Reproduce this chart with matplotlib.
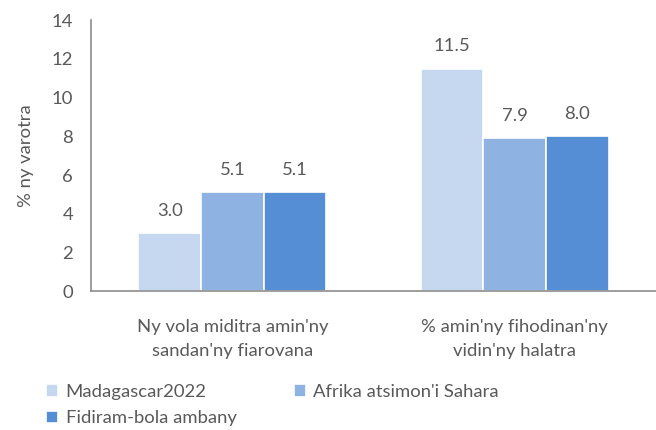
import matplotlib.pyplot as plt
import numpy as np

# donnees
categories = ["Ny vola miditra amin'ny\nsandan'ny fiarovana", "% amin'ny fihodinan'ny\nvidin'ny halatra"]
series_names = ["Madagascar2022", "Afrika atsimon'i Sahara", "Fidiram-bola ambany"]
madagascar = [3.0, 11.5]
afrika = [5.1, 7.9]
fidiram = [5.1, 8.0]
colors = ["#C6D8EF", "#8EB3E2", "#558ED5"]

plt.rcParams['font.family'] = ['Lato', 'DejaVu Sans']
grey = "#595959"
fs = 13.3

fig = plt.figure(figsize=(6.56, 4.30), dpi=100)
ax = fig.add_axes([0.139, 0.323, 0.861, 0.630])

x = np.arange(len(categories))
w = 0.222
values = [madagascar, afrika, fidiram]
handles = []
for i in range(3):
    bars = ax.bar(x + (i - 1) * w, values[i], width=w, color=colors[i],
                  edgecolor="white", linewidth=1.2, label=series_names[i])
    handles.append(bars)
    for b, v in zip(bars, values[i]):
        ax.text(b.get_x() + b.get_width() / 2, v + 0.75, "%.1f" % v,
                ha="center", va="bottom", fontsize=fs, color=grey)

ax.set_xlim(-0.5, 1.5)
ax.set_ylim(0, 14)
ax.set_yticks(range(0, 15, 2))
ax.set_xticks(x)
ax.set_xticklabels(categories, fontsize=fs, color=grey, linespacing=1.6)
ax.tick_params(axis='both', length=0, labelsize=fs, colors=grey)
ax.tick_params(axis='y', pad=13)
ax.tick_params(axis='x', pad=20)
ax.set_ylabel("% ny varotra", fontsize=fs, color=grey, labelpad=13)
for s in ['top', 'right']:
    ax.spines[s].set_visible(False)
for s in ['left', 'bottom']:
    ax.spines[s].set_color("#8C8C8C")
    ax.spines[s].set_linewidth(1.2)

# ordre ligne par ligne comme dans l'original
order = [0, 2, 1]
leg = fig.legend([handles[k] for k in order], [series_names[k] for k in order],
                 loc="lower left", bbox_to_anchor=(0.045, -0.03), ncol=2,
                 frameon=False, fontsize=fs, handlelength=0.65, handleheight=0.65,
                 handletextpad=0.4, columnspacing=3.1, labelspacing=0.55)
for t in leg.get_texts():
    t.set_color(grey)

fig.savefig("out.png", dpi=100)
